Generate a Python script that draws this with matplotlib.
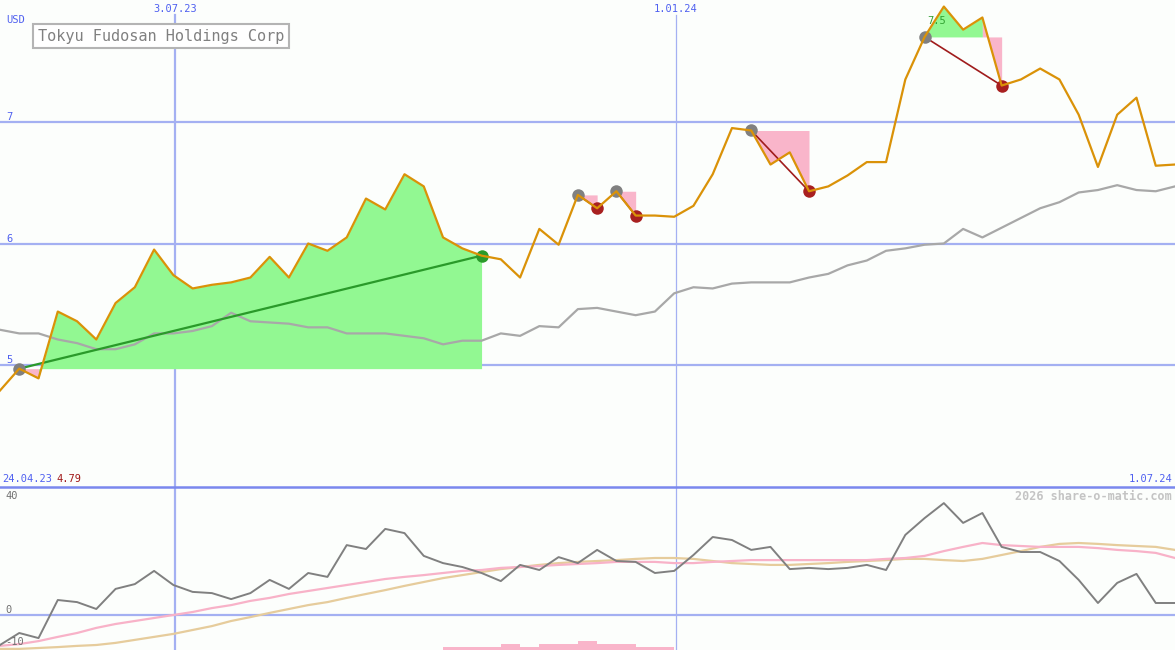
import numpy as np
import matplotlib.pyplot as plt
from matplotlib.lines import Line2D

# weekly closes, 24.04.23 .. 1.07.24 (USD)
price = [4.79, 4.97, 4.89, 5.44, 5.36, 5.21, 5.51, 5.64, 5.95, 5.74,
         5.63, 5.66, 5.68, 5.72, 5.89, 5.72, 6.00, 5.94, 6.05, 6.37,
         6.28, 6.57, 6.47, 6.05, 5.96, 5.90, 5.87, 5.72, 6.12, 5.99,
         6.40, 6.29, 6.43, 6.23, 6.23, 6.22, 6.31, 6.57, 6.95, 6.93,
         6.65, 6.75, 6.43, 6.47, 6.56, 6.67, 6.67, 7.35, 7.70, 7.95,
         7.76, 7.86, 7.30, 7.35, 7.44, 7.35, 7.06, 6.63, 7.06, 7.20,
         6.64, 6.65]
# moving average
avg = [5.29, 5.26, 5.26, 5.21, 5.18, 5.13, 5.13, 5.17, 5.26, 5.26,
       5.28, 5.32, 5.43, 5.36, 5.35, 5.34, 5.31, 5.31, 5.26, 5.26,
       5.26, 5.24, 5.22, 5.17, 5.20, 5.20, 5.26, 5.24, 5.32, 5.31,
       5.46, 5.47, 5.44, 5.41, 5.44, 5.59, 5.64, 5.63, 5.67, 5.68,
       5.68, 5.68, 5.72, 5.75, 5.82, 5.86, 5.94, 5.96, 5.99, 6.00,
       6.12, 6.05, 6.13, 6.21, 6.29, 6.34, 6.42, 6.44, 6.48, 6.44,
       6.43, 6.47]
# lower panel indicator
osc = [-10.0, -6.0, -7.7, 5.0, 4.3, 2.0, 8.7, 10.3, 14.7, 10.0,
       7.7, 7.3, 5.3, 7.3, 11.7, 8.7, 14.0, 12.7, 23.3, 22.0,
       28.7, 27.3, 19.7, 17.3, 16.0, 14.0, 11.3, 16.7, 15.0, 19.3,
       17.3, 21.7, 18.0, 17.7, 14.0, 14.7, 20.0, 26.0, 25.0, 21.7,
       22.7, 15.3, 15.7, 15.3, 15.7, 16.7, 15.0, 26.7, 32.3, 37.3,
       30.7, 34.0, 22.7, 21.0, 21.0, 18.0, 11.7, 4.0, 10.7, 13.7,
       4.0, 4.0]
sig_pink = [-10.3, -9.7, -8.7, -7.3, -6.0, -4.3, -3.0, -2.0, -1.0, 0.0,
            1.0, 2.3, 3.3, 4.7, 5.7, 7.0, 8.0, 9.0, 10.0, 11.0,
            12.0, 12.7, 13.3, 14.0, 14.7, 15.0, 15.7, 16.0, 16.3, 16.7,
            17.0, 17.3, 17.7, 17.7, 17.7, 17.3, 17.3, 17.7, 18.0, 18.3,
            18.3, 18.3, 18.3, 18.3, 18.3, 18.3, 18.7, 19.0, 19.7, 21.3,
            22.7, 24.0, 23.3, 23.0, 22.7, 22.7, 22.7, 22.3, 21.7, 21.3,
            20.7, 19.0]
sig_tan = [-11.3, -11.3, -11.0, -10.7, -10.3, -10.0, -9.3, -8.3, -7.3, -6.3,
           -5.0, -3.7, -2.0, -0.7, 0.7, 2.0, 3.3, 4.3, 5.7, 7.0,
           8.3, 9.7, 11.0, 12.3, 13.3, 14.3, 15.3, 16.0, 16.7, 17.3,
           17.7, 18.0, 18.3, 18.7, 19.0, 19.0, 18.7, 18.0, 17.3, 17.0,
           16.7, 16.7, 17.0, 17.3, 17.7, 18.0, 18.3, 18.7, 18.7, 18.3,
           18.0, 18.7, 20.0, 21.3, 22.7, 23.7, 24.0, 23.7, 23.3, 23.0,
           22.7, 21.7]
vol_start = 23
vol = [1, 1, 1, 2, 1, 2, 2, 3, 2, 2, 1, 1]
trades = [(1, 25), (30, 31), (32, 33), (39, 42), (48, 52)]

W, H = 1175, 650
ORANGE = '#da9208'
GRID = '#a4b0f2'
BLUE = '#4f60f0'
GREENF = '#92f892'
PINKF = '#f9b5ca'

fig = plt.figure(figsize=(W / 100, H / 100), dpi=100)
fig.patch.set_facecolor('#fcfefc')
ax = fig.add_axes([0, 163 / H, 1, 487 / H])
ax2 = fig.add_axes([0, 0, 1, 163 / H])
for a in (ax, ax2):
    a.set_axis_off()
    a.set_xlim(0, len(price) - 1)
ax.set_ylim(3.996, 8.004)
ax2.set_ylim(-11.67, 42.67)

x = np.arange(len(price))
p = np.array(price)
v1, v2 = 175 / 19.262, 676 / 19.262

# grid
for lv in (5, 6, 7):
    ax.axhline(lv, color=GRID, lw=1.6, zorder=0)
ax.plot([v1, v1], [3.99, 7.88], color=GRID, lw=1.6, zorder=0)
ax.plot([v2, v2], [3.99, 7.88], color=GRID, lw=0.9, zorder=0)
ax2.axhline(0, color=GRID, lw=1.6, zorder=0)
ax2.axvline(v1, color=GRID, lw=1.6, zorder=0)
ax2.axvline(v2, color=GRID, lw=0.9, zorder=0)
fig.add_artist(Line2D([0, 1], [163 / H, 163 / H], transform=fig.transFigure,
                      color='#7a88ee', lw=1.8))

# trade fills: each segment coloured by where it ends, runs merged
for a_, b_ in trades:
    entry = price[a_]
    cols = [GREENF if price[i + 1] >= entry else PINKF for i in range(a_, b_)]
    s = a_
    for k in range(1, len(cols) + 1):
        if k == len(cols) or cols[k] != cols[k - 1]:
            e = a_ + k
            ax.fill_between(x[s:e + 1], p[s:e + 1], entry,
                            color=cols[k - 1], lw=0, zorder=1)
            s = e

ax.plot(x, avg, color='#a8a8a8', lw=1.6, zorder=2)

for a_, b_ in trades:
    win = price[b_] > price[a_]
    lc = '#2a9a2a' if win else '#a01c1c'
    ax.plot([a_, b_], [price[a_], price[b_]], color=lc,
            lw=1.6 if win else 1.2, zorder=3)
    ax.plot(a_, price[a_], 'o', color='#808080', ms=9, mec='none', zorder=4)
    ax.plot(b_, price[b_], 'o', color=lc if win else '#a82020', ms=9,
            mec='none', zorder=4)

ax.plot(x, price, color=ORANGE, lw=1.6, zorder=5)

# lower panel
ax2.bar(np.arange(vol_start, vol_start + len(vol)), vol, width=1.0,
        align='edge', bottom=-11.67, color=PINKF, lw=0, zorder=1)
ax2.plot(x, sig_tan, color='#e6cc9c', lw=1.6, zorder=2)
ax2.plot(x, sig_pink, color='#f8b2c8', lw=1.6, zorder=2)
ax2.plot(x, osc, color='#808080', lw=1.4, zorder=3)

mono = 'DejaVu Sans Mono'


def txt(px, py, s, **kw):
    kw.setdefault('family', mono)
    kw.setdefault('fontsize', 7.5)
    kw.setdefault('color', BLUE)
    fig.text(px / W, 1 - py / H, s, **kw)


txt(6, 20, 'USD', va='center')
txt(6, 117, '7', va='center')
txt(6, 239, '6', va='center')
txt(6, 360, '5', va='center')
txt(175, 9, '3.07.23', ha='center', va='center')
txt(676, 9, '1.01.24', ha='center', va='center')
txt(2, 479, '24.04.23', va='center')
txt(56, 479, '4.79', va='center', color='#a01818')
txt(1172, 479, '1.07.24', ha='right', va='center')
txt(1172, 496, '2026 share-o-matic.com', ha='right', va='center',
    color='#c4c4c4', fontsize=8.5, fontweight='bold')
txt(5, 496, '40', va='center', color='#707070')
txt(5, 610, '0', va='center', color='#707070')
txt(5, 642, '-10', va='center', color='#707070')
txt(927, 21, '7.5', va='center', color='#30a030')
txt(38, 36, 'Tokyu Fudosan Holdings Corp', va='center', color='#808080',
    fontsize=11,
    bbox=dict(boxstyle='square,pad=0.3', fc='white', ec='#b4b4b4', lw=1.5))

fig.savefig('out.png', dpi=100, facecolor=fig.get_facecolor())
